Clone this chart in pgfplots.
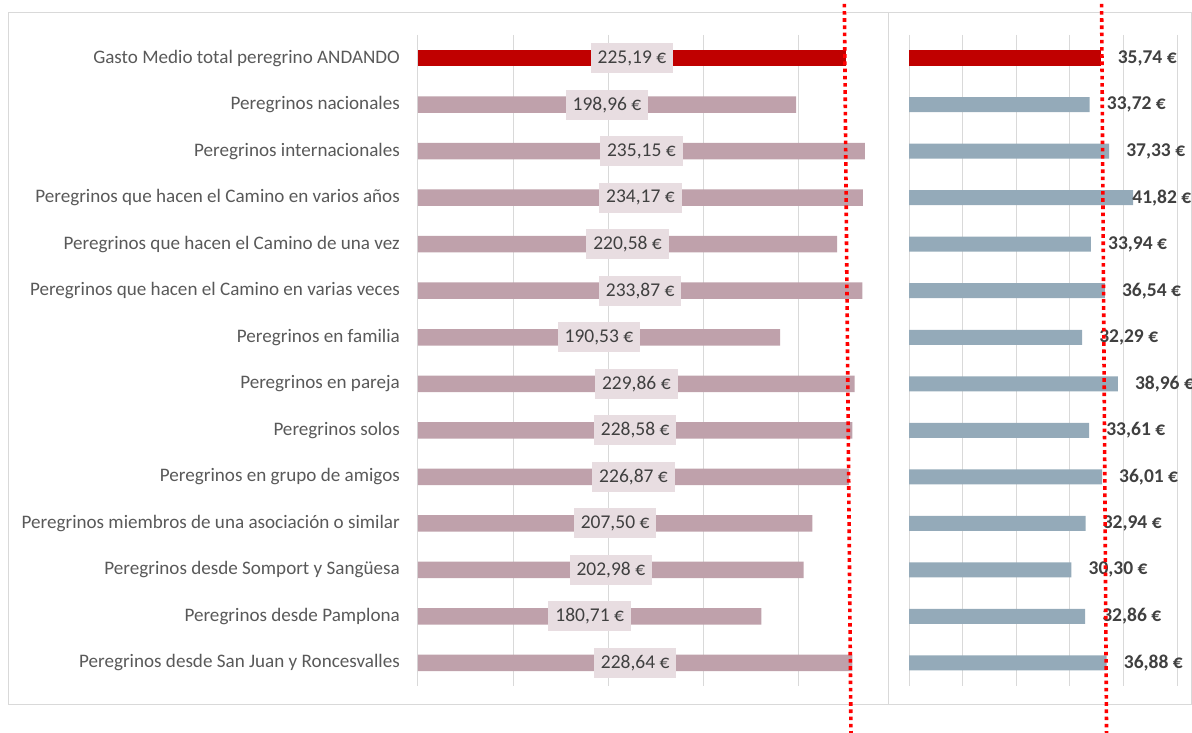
\documentclass[border=0pt]{standalone}
\usepackage{fontspec}
\setmainfont{Carlito}
\usepackage{pgfplots}
\usepackage{pgfplotstable}
\pgfplotsset{compat=1.18}
\definecolor{barred}{HTML}{C00000}
\definecolor{barpink}{HTML}{BFA1AB}
\definecolor{barblue}{HTML}{94AAB9}
\definecolor{lblbg}{HTML}{E8DDE1}
\definecolor{txt}{HTML}{404040}
\definecolor{cat}{HTML}{595959}
\definecolor{gridc}{HTML}{D9D9D9}

\pgfplotstableread{
idx v r
0 225.19 35.74
1 198.96 33.72
2 235.15 37.33
3 234.17 41.82
4 220.58 33.94
5 233.87 36.54
6 190.53 32.29
7 229.86 38.96
8 228.58 33.61
9 226.87 36.01
10 207.50 32.94
11 202.98 30.30
12 180.71 32.86
13 228.64 36.88
}\data

\pgfplotsset{
  eurolbl/.style={nodes near coords={\pgfmathprintnumber[fixed,fixed zerofill,precision=2,use comma,assume math mode=true]{\pgfplotspointmeta}~€}},
}

\begin{document}
\fontsize{19.5}{23}\selectfont
\begin{tikzpicture}[x=1pt,y=1pt]
\useasboundingbox (0,0) rectangle (1192,733);
\draw[gridc, line width=1pt] (8,28) rectangle (1191.5,720);
\draw[gridc, line width=1pt] (888,28) -- (888,720);

\begin{axis}[
  at={(418pt,698pt)}, anchor=north west,
  scale only axis, width=470pt, height=651pt,
  xmin=0, xmax=247.37, ymin=-0.5, ymax=13.5, y dir=reverse,
  axis line style={draw=none}, major tick length=0pt,
  xtick={0,50,100,150,200}, xticklabel=\empty,
  xmajorgrids, grid style={gridc, line width=1pt},
  ytick={0,...,13},
  yticklabels={Gasto Medio total peregrino ANDANDO,
    Peregrinos nacionales,
    Peregrinos internacionales,
    Peregrinos que hacen el Camino en varios años,
    Peregrinos que hacen el Camino de una vez,
    Peregrinos que hacen el Camino en varias veces,
    Peregrinos en familia,
    Peregrinos en pareja,
    Peregrinos solos,
    Peregrinos en grupo de amigos,
    Peregrinos miembros de una asociación o similar,
    Peregrinos desde Somport y Sangüesa,
    Peregrinos desde Pamplona,
    Peregrinos desde San Juan y Roncesvalles},
  yticklabel style={text=cat, anchor=east, inner sep=0pt, xshift=-18pt,
    font=\fontsize{19.1}{23}\selectfont},
  clip=false,
]
\addplot[xbar, bar width=16.5pt, bar shift=0pt, fill=barpink, draw=none,
  skip coords between index={0}{1}] table[x=v,y=idx]{\data};
\addplot[xbar, bar width=16.5pt, bar shift=0pt, fill=barred, draw=none,
  skip coords between index={1}{14}] table[x=v,y=idx]{\data};
\addplot[draw=none, point meta=explicit, eurolbl,
  every node near coord/.append style={anchor=center, fill=lblbg, text=txt,
    inner xsep=7pt, inner ysep=0pt, minimum height=30pt}]
  table[x expr=\thisrow{v}/2, y=idx, meta=v]{\data};
\coordinate (l1) at (axis cs:224.4,-1.17);
\coordinate (l2) at (axis cs:227.9,14.59);
\end{axis}

\begin{axis}[
  at={(909pt,698pt)}, anchor=north west,
  scale only axis, width=268pt, height=651pt,
  xmin=0, xmax=50, ymin=-0.5, ymax=13.5, y dir=reverse,
  axis line style={draw=none}, major tick length=0pt,
  xtick={0,10,...,50}, xticklabel=\empty,
  ytick=\empty,
  xmajorgrids, grid style={gridc, line width=1pt},
  clip=false,
]
\addplot[xbar, bar width=15pt, bar shift=0pt, fill=barblue, draw=none,
  skip coords between index={0}{1}] table[x=r,y=idx]{\data};
\addplot[xbar, bar width=16.5pt, bar shift=0pt, fill=barred, draw=none,
  skip coords between index={1}{14}] table[x=r,y=idx]{\data};
\addplot[draw=none, point meta=explicit, eurolbl,
  skip coords between index={3}{4},
  every node near coord/.append style={anchor=west, inner sep=0pt, text=txt,
    font=\bfseries, xshift=17pt}]
  table[x=r, y=idx, meta=r]{\data};
\addplot[draw=none, point meta=explicit, eurolbl,
  skip coords between index={0}{3}, skip coords between index={4}{14},
  every node near coord/.append style={anchor=west, inner sep=0pt, text=txt,
    font=\bfseries, xshift=-1pt}]
  table[x=r, y=idx, meta=r]{\data};
\coordinate (r1) at (axis cs:35.93,-1.17);
\coordinate (r2) at (axis cs:36.86,14.59);
\end{axis}

\draw[red, line width=3.6pt, dash pattern=on 3.6pt off 3.6pt] (l1) -- (l2);
\draw[red, line width=3.6pt, dash pattern=on 3.6pt off 3.6pt] (r1) -- (r2);
\end{tikzpicture}
\end{document}
